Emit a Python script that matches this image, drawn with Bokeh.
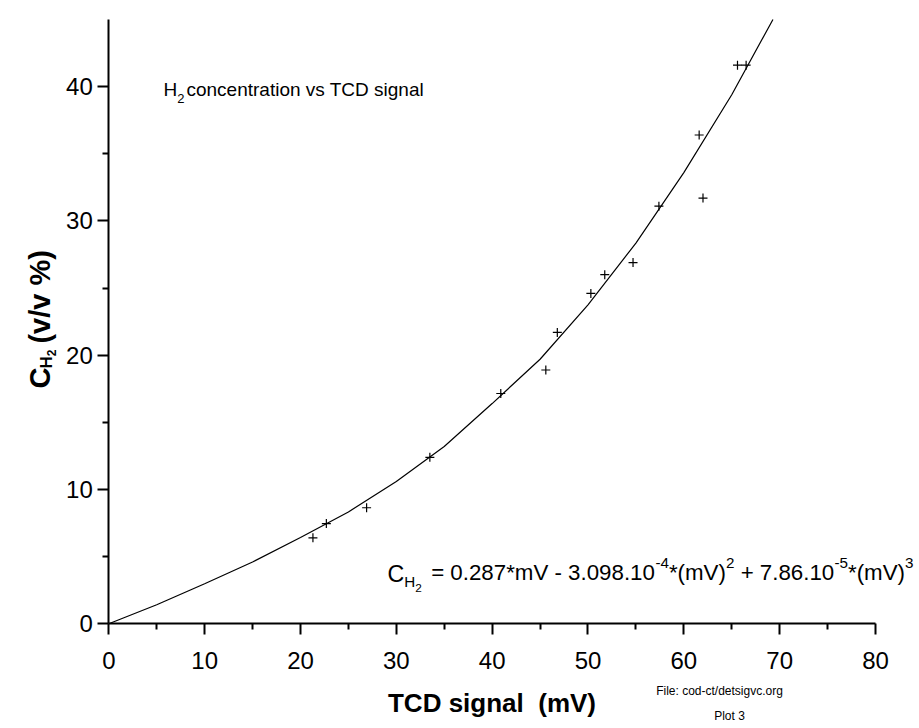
import math
from bokeh.plotting import figure
from bokeh.models import Label, FixedTicker, Range1d
from bokeh.embed import file_html
from bokeh.resources import INLINE

# ---- data ----
tcd_mv = [21.3, 22.7, 26.9, 33.5, 40.9, 45.6, 46.8, 50.3, 51.75, 54.7, 57.4, 61.6, 62.0, 65.6, 66.5]
ch2_pct = [6.4, 7.46, 8.64, 12.4, 17.15, 18.9, 21.7, 24.6, 26.0, 26.9, 31.1, 36.4, 31.7, 41.6, 41.6]

fit_mv = [0, 5, 10, 15, 20, 25, 30, 35, 40, 45, 50, 55, 60, 65, 69.3]
fit_ch2 = [0, 1.42, 2.98, 4.6, 6.42, 8.33, 10.6, 13.2, 16.4, 19.7, 23.75, 28.35, 33.6, 39.4, 45.0]

x_major = [0, 10, 20, 30, 40, 50, 60, 70, 80]
x_minor = [5, 15, 25, 35, 45, 55, 65, 75]
y_major = [0, 10, 20, 30, 40]
y_minor = [5, 15, 25, 35]

X_MIN, X_MAX = 0, 80
Y_MIN, Y_MAX = 0, 45

# ---- layout (pixels) ----
W, H = 915, 726
X0_PX, X1_PX = 108.3, 875.0   # where X_MIN / X_MAX fall
Y0_PX, Y1_PX = 623.3, 19.0    # where Y_MIN / Y_MAX fall
SX = (X1_PX - X0_PX) / (X_MAX - X_MIN)
SY = (Y0_PX - Y1_PX) / (Y_MAX - Y_MIN)

REG = "Liberation Sans"

p = figure(width=W, height=H, output_backend="svg", toolbar_location=None,
           x_range=Range1d(X_MIN - X0_PX / SX, X_MAX + (W - X1_PX) / SX),
           y_range=Range1d(Y_MIN - (H - Y0_PX) / SY, Y_MAX + Y1_PX / SY),
           min_border=0)
p.min_border_left = p.min_border_right = p.min_border_top = p.min_border_bottom = 0
p.outline_line_color = None
p.grid.visible = False
p.background_fill_color = "white"
p.border_fill_color = "white"


def dx(px):
    return X_MIN + (px - X0_PX) / SX


def dy(py):
    return Y_MIN + (Y0_PX - py) / SY


p.line(fit_mv, fit_ch2, line_color="black", line_width=1.2)
p.scatter(tcd_mv, ch2_pct, marker="cross", size=9, line_color="black", line_width=1.2)

for ax, maj, mnr, bnd in ((p.xaxis[0], x_major, x_minor, (X_MIN, X_MAX)),
                          (p.yaxis[0], y_major, y_minor, (Y_MIN, Y_MAX))):
    ax.fixed_location = 0
    ax.bounds = bnd
    ax.ticker = FixedTicker(ticks=maj, minor_ticks=mnr)
    ax.axis_line_width = 2
    ax.major_tick_line_width = 2
    ax.minor_tick_line_width = 2
    ax.major_tick_out = 11
    ax.major_tick_in = 0
    ax.minor_tick_out = 6
    ax.minor_tick_in = 0
    ax.major_label_text_font = REG
    ax.major_label_text_font_size = "24px"
    ax.major_label_text_color = "black"
    ax.axis_line_color = "black"
    ax.major_tick_line_color = "black"
    ax.minor_tick_line_color = "black"

p.xaxis.major_label_standoff = 17
p.yaxis.major_label_standoff = 5
p.xaxis.axis_label = "TCD signal \u00a0(mV)"
p.xaxis.axis_label_text_font = REG
p.xaxis.axis_label_text_font_style = "bold"
p.xaxis.axis_label_text_font_size = "26px"
p.xaxis.axis_label_standoff = 16
p.xaxis.axis_label_text_color = "black"

# Arial / Liberation Sans advance widths (per 1000 em) for text flow
_REGW = {" ": 278, "%": 889, "(": 333, ")": 333, "*": 389, "+": 584, "-": 333, ".": 278,
         "/": 278, ":": 278, "=": 584, "C": 722, "D": 722, "F": 611, "H": 722, "P": 667,
         "T": 611, "V": 667, "a": 556, "c": 500, "d": 556, "e": 556, "g": 556, "i": 222,
         "l": 222, "m": 833, "n": 556, "o": 556, "r": 333, "s": 500, "t": 278, "v": 500}
_BOLDW = {" ": 278, "%": 889, "(": 333, ")": 333, "/": 278, "v": 556, "C": 722, "H": 722}


def tw(text, size, bold=False):
    table = _BOLDW if bold else _REGW
    return sum(table.get(ch, 556) for ch in text) * size / 1000.0


def lab(text, px, py, size, style="normal", angle=0.0, align="left"):
    p.add_layout(Label(x=dx(px), y=dy(py), text=text, text_font=REG,
                       text_font_size=f"{size}px", text_font_style=style,
                       text_color="black", text_align=align,
                       text_baseline="alphabetic", angle=angle))


# ---- title inside the plot ----
T_SIZE = 19
lab("H", 163, 89, T_SIZE)
lab("2", 163 + tw("H", T_SIZE), 98, 13)
lab("concentration vs TCD signal", 163 + tw("H", T_SIZE) + tw("2", 13) + 2, 89, T_SIZE)

# ---- y-axis label (rotated, reads upward) ----
r = math.pi / 2
Y_START = 388
Y_SIZE = 29
ypos = Y_START
lab("C", 39, ypos, Y_SIZE, "bold", r)
ypos -= tw("C", Y_SIZE, True) - 1
lab("H", 46, ypos, 17, "bold", r)
ypos -= tw("H", 17, True)
lab("2", 51, ypos, 12, "bold", r)
ypos -= tw("2", 12, True) + 6
lab("(v/v %)", 39, ypos, Y_SIZE, "bold", r)

# ---- fit equation: flow the pieces from x=387 to x=913 ----
E_LEFT, E_RIGHT, E_BASE = 387, 913, 572
pieces = [  # text, size factor, baseline shift (px)
    ("C", 1.04, 1), ("H", 0.68, 9), ("2", 0.53, 15),
    ("= 0.287*mV - 3.098.10", 1.0, 0), ("-4", 0.68, -10), ("*(mV)", 1.0, 0),
    ("2", 0.68, -10), ("+ 7.86.10", 1.0, 0), ("-5", 0.68, -10), ("*(mV)", 1.0, 0),
    ("3", 0.68, -10),
]
gaps = {3: 1.5, 7: 1.0}  # extra leading gap (in spaces of main size) before piece index
units = sum(tw(t, f) for t, f, _ in pieces) + sum(gaps.values()) * 0.278
E_SIZE = (E_RIGHT - E_LEFT) / units
xpos = E_LEFT
for i, (t, f, shift) in enumerate(pieces):
    xpos += gaps.get(i, 0) * 0.278 * E_SIZE
    lab(t, xpos, E_BASE + shift, round(E_SIZE * f, 1))
    xpos += tw(t, E_SIZE * f)

# ---- file note ----
lab("File: cod-ct/detsigvc.org", 719, 690, 12, align="center")
lab("Plot 3", 729, 715, 12, align="center")

open("out.html", "w").write(file_html(p, INLINE))
